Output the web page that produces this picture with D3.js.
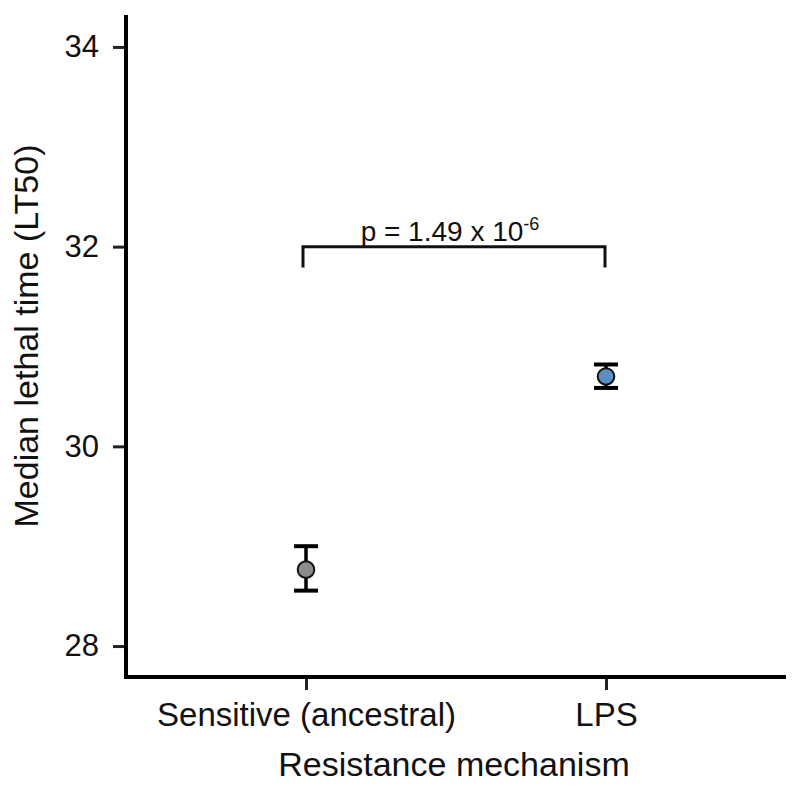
<!DOCTYPE html>
<html>
<head>
<meta charset="utf-8">
<script src="https://cdn.jsdelivr.net/npm/d3@7"></script>
<style>
  body { margin: 0; background: #fff; }
  svg { font-family: "Liberation Sans", Arial, sans-serif; }
</style>
</head>
<body>
<svg id="chart" width="800" height="790"></svg>
<script>
const categories = ["Sensitive (ancestral)", "LPS"];
const means = [28.765, 30.70];
const lower = [28.555, 30.585];
const upper = [29.00, 30.82];
const colors = ["#8c8c8c", "#5b8fc1"];
const yTicks = [28, 30, 32, 34];
const pText = ["p = 1.49 x 10", "-6"];
const bracketY = 32.0;
const bracketDrop = 31.79;

(function () {
const svg = d3.select("#chart");
const mLeft = 126, mRight = 786, mTop = 15, mBottom = 677;
const font = "Liberation Sans, Arial, sans-serif";

const x = d3.scalePoint().domain(categories).range([mLeft, mRight]).padding(0.6);
const y = d3.scaleLinear().domain([27.69, 34.32]).range([mBottom, mTop]);

// Y axis
const yAxis = svg.append("g").attr("transform", `translate(${mLeft},0)`)
  .call(d3.axisLeft(y).tickValues(yTicks).tickSize(13).tickPadding(14).tickFormat(d3.format("d")));
yAxis.select(".domain").remove();
yAxis.selectAll(".tick line").attr("stroke", "#222").attr("stroke-width", 3);
yAxis.selectAll(".tick text").attr("font-size", 31).attr("fill", "#111").attr("font-family", font);

// X axis
const xAxis = svg.append("g").attr("transform", `translate(0,${mBottom})`)
  .call(d3.axisBottom(x).tickSize(13).tickPadding(13));
xAxis.select(".domain").remove();
xAxis.selectAll(".tick line").attr("stroke", "#222").attr("stroke-width", 3);
xAxis.selectAll(".tick text").attr("font-size", 33).attr("fill", "#111").attr("font-family", font);

// axis lines
svg.append("path")
  .attr("d", `M${mLeft},${mTop}V${mBottom}H${mRight}`)
  .attr("fill", "none").attr("stroke", "#000").attr("stroke-width", 4);

// Axis titles
svg.append("text")
  .attr("transform", `translate(38,336) rotate(-90)`)
  .attr("text-anchor", "middle").attr("font-size", 34).attr("fill", "#111")
  .text("Median lethal time (LT50)");
svg.append("text")
  .attr("x", (mLeft + mRight) / 2 - 2).attr("y", 776)
  .attr("text-anchor", "middle").attr("font-size", 34).attr("fill", "#111")
  .text("Resistance mechanism");

// Error bars
const capHalf = 12;
const g = svg.append("g");
categories.forEach((c, i) => {
  const cx = x(c);
  g.append("line").attr("x1", cx).attr("x2", cx).attr("y1", y(lower[i])).attr("y2", y(upper[i]))
    .attr("stroke", "#000").attr("stroke-width", 3.5);
  [lower[i], upper[i]].forEach(v => {
    g.append("line").attr("x1", cx - capHalf).attr("x2", cx + capHalf).attr("y1", y(v)).attr("y2", y(v))
      .attr("stroke", "#000").attr("stroke-width", 4);
  });
  g.append("circle").attr("cx", cx).attr("cy", y(means[i])).attr("r", 8.3)
    .attr("fill", colors[i]).attr("stroke", "#111").attr("stroke-width", 2);
});

// Significance bracket
const x1 = x(categories[0]) - 3, x2 = x(categories[1]) - 1;
svg.append("path")
  .attr("d", `M${x1},${y(bracketDrop)}V${y(bracketY)}H${x2}V${y(bracketDrop)}`)
  .attr("fill", "none").attr("stroke", "#111").attr("stroke-width", 3);
const t = svg.append("text")
  .attr("x", (x1 + x2) / 2 - 4).attr("y", y(bracketY) - 6)
  .attr("text-anchor", "middle").attr("font-size", 28).attr("fill", "#111").attr("font-family", font);
t.append("tspan").text(pText[0]);
t.append("tspan").attr("dy", -11).attr("font-size", 18).text(pText[1]);
})();
</script>
</body>
</html>
